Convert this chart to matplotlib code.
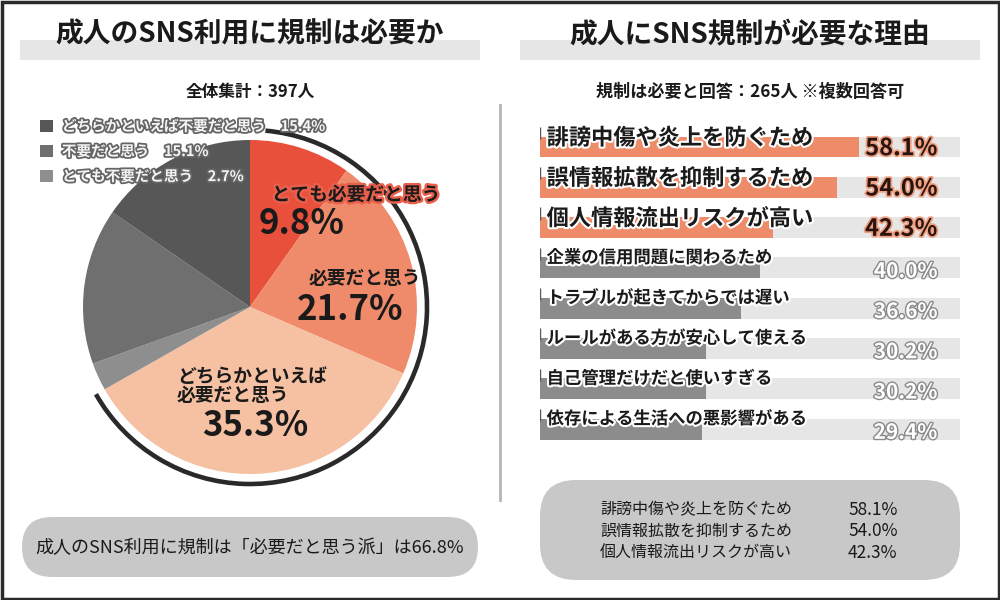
import matplotlib
matplotlib.use('Agg')
import matplotlib.pyplot as plt
import matplotlib.patches as mpatches
import matplotlib.patheffects as pe

plt.rcParams['font.family'] = ['Noto Sans CJK JP', 'DejaVu Sans']

# ---- data ----
left_title = '成人のSNS利用に規制は必要か'
right_title = '成人にSNS規制が必要な理由'
total_n = 397
need_n = 265

pie_labels = ['とても必要だと思う', '必要だと思う', 'どちらかといえば必要だと思う',
              'とても不要だと思う', '不要だと思う', 'どちらかといえば不要だと思う']
pie_values = [9.8, 21.7, 35.3, 2.7, 15.1, 15.4]
pie_colors = ['#E8503C', '#EF8B6B', '#F6C0A2', '#8E8E8E', '#6F6F6F', '#575757']
need_share = 66.8

reasons = ['誹謗中傷や炎上を防ぐため', '誤情報拡散を抑制するため', '個人情報流出リスクが高い',
           '企業の信用問題に関わるため', 'トラブルが起きてからでは遅い',
           'ルールがある方が安心して使える', '自己管理だけだと使いすぎる',
           '依存による生活への悪影響がある']
reason_values = [58.1, 54.0, 42.3, 40.0, 36.6, 30.2, 30.2, 29.4]
n_top = 3
track_max = 76.4

fig = plt.figure(figsize=(10, 6), dpi=100)
fig.patch.set_facecolor('white')

# ---- background / decoration axes in pixel units ----
bg = fig.add_axes([0, 0, 1, 1])
bg.set_xlim(0, 1000)
bg.set_ylim(600, 0)
bg.axis('off')

bg.add_patch(mpatches.Rectangle((1.5, 1.5), 997, 597, fill=False, ec='#2a2a2a', lw=2.5))
bg.add_patch(mpatches.Rectangle((20, 40), 460, 20, fc='#E6E6E6', ec='none'))
bg.add_patch(mpatches.Rectangle((520, 40), 460, 20, fc='#E6E6E6', ec='none'))
bg.text(250, 34, left_title, ha='center', va='center', fontsize=20, fontweight='bold', color='#1a1a1a')
bg.text(750, 34, right_title, ha='center', va='center', fontsize=20, fontweight='bold', color='#1a1a1a')
bg.text(250, 92, '全体集計：{}人'.format(total_n), ha='center', va='center', fontsize=12,
        fontweight='bold', color='#1a1a1a')
bg.text(750, 92, '規制は必要と回答：{}人 ※複数回答可'.format(need_n), ha='center', va='center',
        fontsize=12.3, fontweight='bold', color='#1a1a1a')
bg.plot([500, 500], [105, 500], color='#b5b5b5', lw=2)

# bottom boxes
bg.add_patch(mpatches.FancyBboxPatch((22, 517), 456, 60, boxstyle='round,pad=0,rounding_size=30',
                                     fc='#C8C8C8', ec='none'))
bg.text(250, 548, '成人のSNS利用に規制は「必要だと思う派」は{}%'.format(need_share), ha='center',
        va='center', fontsize=13, color='#1a1a1a')
bg.add_patch(mpatches.FancyBboxPatch((540, 480), 420, 100, boxstyle='round,pad=0,rounding_size=36',
                                     fc='#C8C8C8', ec='none'))
for k in range(n_top):
    yy = 510 + 21.5 * k
    bg.text(600, yy, reasons[k], ha='left', va='center', fontsize=11.5, color='#1a1a1a')
    bg.text(848, yy, '{:.1f}%'.format(reason_values[k]), ha='left', va='center', fontsize=12.5,
            color='#1a1a1a')

# ---- pie ----
R_PX = 167
pax = fig.add_axes([60 / 1000, (600 - 497) / 600, 380 / 1000, 380 / 600])
wedges, _ = pax.pie(pie_values, colors=pie_colors, startangle=90, counterclock=False, radius=1)
lim = 190 / R_PX
pax.set_xlim(-lim, lim)
pax.set_ylim(-lim, lim)
pax.axis('off')
pax.add_patch(mpatches.Arc((0, 0), 2.12, 2.12, theta1=90 - 360 * need_share / 100, theta2=85,
                           lw=3.3, color='#2a2a2a'))

# legend for the grey slices
leg_idx = [5, 4, 3]
leg = fig.legend([wedges[i] for i in leg_idx],
                 ['{}　{}%'.format(pie_labels[i], pie_values[i]) for i in leg_idx],
                 loc='upper left', bbox_to_anchor=(40 / 1000, 1 - 118 / 600), frameon=False,
                 fontsize=10.5, handlelength=0.9, handleheight=0.9, handletextpad=0.6,
                 labelspacing=0.62, borderpad=0, borderaxespad=0)
for t in leg.get_texts():
    t.set_color('#f4f4f4')
    t.set_fontweight('bold')
    t.set_path_effects([pe.withStroke(linewidth=2.6, foreground='#666666')])

# overlay for pie labels (above the wedges)
fg = fig.add_axes([0, 0, 1, 1])
fg.set_xlim(0, 1000)
fg.set_ylim(600, 0)
fg.axis('off')
red_glow = [pe.withStroke(linewidth=3.5, foreground='#E8604C')]
fg.text(356, 195, pie_labels[0], ha='center', va='center', fontsize=13.5, fontweight='bold',
        color='#1a1a1a', path_effects=red_glow)
fg.text(302, 224, '{}%'.format(pie_values[0]), ha='center', va='center', fontsize=25,
        fontweight='bold', color='#1a1a1a')
fg.text(365, 279, pie_labels[1], ha='center', va='center', fontsize=13.5, fontweight='bold',
        color='#1a1a1a')
fg.text(350, 310, '{}%'.format(pie_values[1]), ha='center', va='center', fontsize=25,
        fontweight='bold', color='#1a1a1a')
fg.text(177, 386, 'どちらかといえば\n必要だと思う', ha='left', va='center', fontsize=13.5,
        fontweight='bold', color='#1a1a1a', linespacing=1.05)
fg.text(255, 425, '{}%'.format(pie_values[2]), ha='center', va='center', fontsize=25,
        fontweight='bold', color='#1a1a1a')

# ---- bars ----
bax = fig.add_axes([540 / 1000, (600 - 449.25) / 600, 420 / 1000, 322.4 / 600])
ypos = list(range(len(reasons)))
bar_colors = ['#EE8B69' if i < n_top else '#8C8C8C' for i in ypos]
bax.barh(ypos, [track_max] * len(ypos), height=0.52, color='#E6E6E6')
bax.barh(ypos, reason_values, height=0.52, color=bar_colors)
bax.set_xlim(0, track_max)
bax.set_ylim(len(reasons) - 0.5, -0.5)
bax.axis('off')
bax.vlines([0] * len(ypos), [y - 0.5 for y in ypos], [y - 0.2 for y in ypos], color='#555555', lw=1)

white_edge = [pe.withStroke(linewidth=3, foreground='white')]
for i, (lab, v) in enumerate(zip(reasons, reason_values)):
    if i < n_top:
        bax.text(1.2, i - 0.22, lab, ha='left', va='center', fontsize=16, fontweight='bold',
                 color='#1a1a1a', path_effects=white_edge)
        bax.text(72.3, i + 0.03, '{:.1f}%'.format(v), ha='right', va='center', fontsize=17,
                 fontweight='bold', color='#2a1410',
                 path_effects=[pe.withStroke(linewidth=2.5, foreground='#F0A080')])
    else:
        bax.text(1.2, i - 0.25, lab, ha='left', va='center', fontsize=12.5, fontweight='bold',
                 color='#1a1a1a', path_effects=white_edge)
        bax.text(72.3, i + 0.08, '{:.1f}%'.format(v), ha='right', va='center', fontsize=15,
                 fontweight='bold', color='white',
                 path_effects=[pe.withStroke(linewidth=2, foreground='#8a8a8a')])

fig.savefig('out.png', dpi=100)
